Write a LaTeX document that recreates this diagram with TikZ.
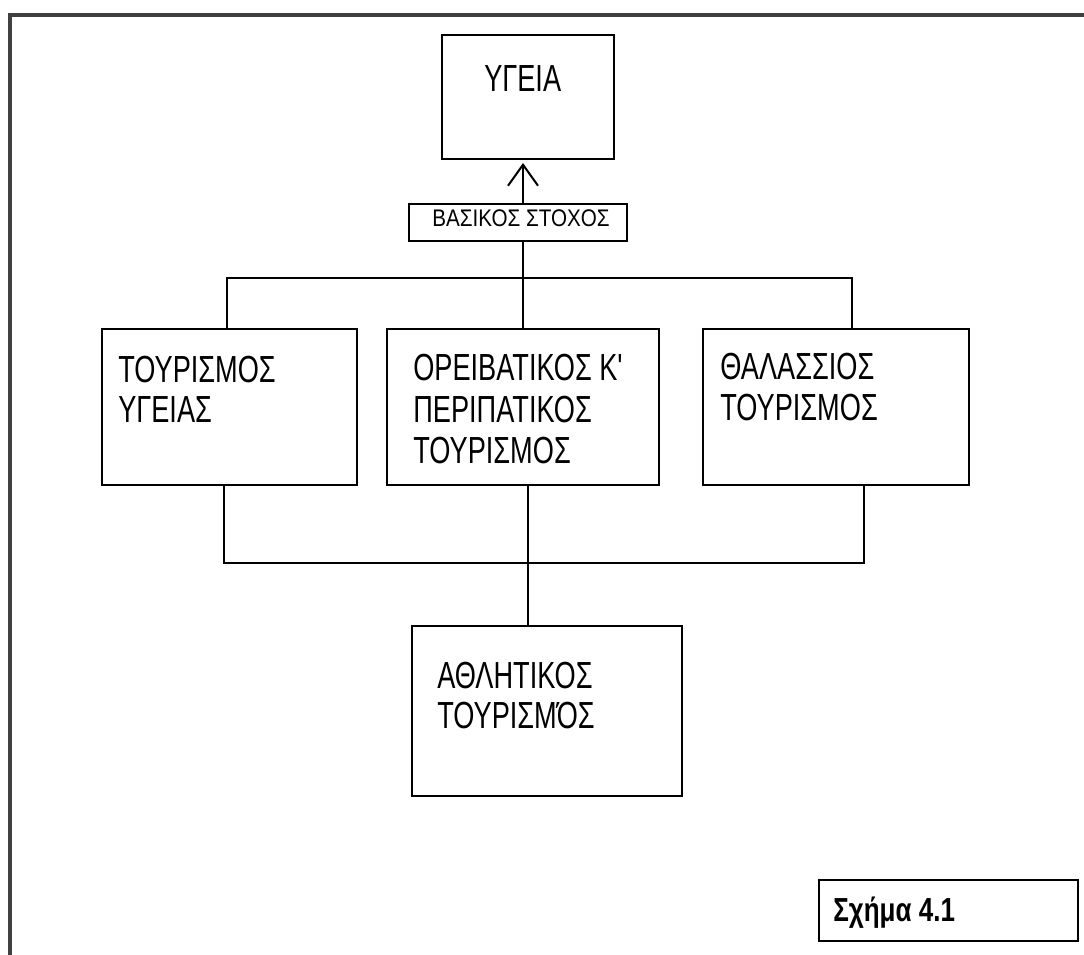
\documentclass[tikz,border=0pt]{standalone}
\usepackage{fontspec}
\setmainfont{Liberation Sans}
\newfontfamily\thinfont[FakeStretch=0.72]{Liberation Sans}
\newfontfamily\smallfont[FakeStretch=0.86]{Liberation Sans}
\newfontfamily\boldfont[FakeStretch=0.78]{Liberation Sans Bold}
\usetikzlibrary{arrows.meta}
\begin{document}
\begin{tikzpicture}[x=0.75pt,y=-0.75pt,
  box/.style={draw, line width=1.5pt, inner sep=0pt},
  conn/.style={line width=1.5pt},
  frameline/.style={draw=black!75, line width=2.4pt},
  bigtxt/.style={anchor=base west, inner sep=0pt, font=\thinfont\fontsize{28.3}{30}\selectfont},
  smalltxt/.style={anchor=base, inner sep=0pt, font=\smallfont\fontsize{18}{19}\selectfont},
  figtxt/.style={anchor=base west, inner sep=0pt, font=\boldfont\fontsize{25}{27}\selectfont}]
\useasboundingbox (0,0) rectangle (1084,955);
% outer frame
\draw[frameline] (10,955) -- (10,15) -- (1084,15);
% boxes
\node[box, minimum width=172*0.75pt, minimum height=124*0.75pt] (ygeia) at (528,97) {};
\node[box, minimum width=218*0.75pt, minimum height=37*0.75pt] (basic) at (518,222.5) {};
\node[box, minimum width=255*0.75pt, minimum height=156*0.75pt] (tour) at (229.5,407) {};
\node[box, minimum width=272*0.75pt, minimum height=156*0.75pt] (orei) at (523,407) {};
\node[box, minimum width=266*0.75pt, minimum height=156*0.75pt] (thal) at (836,407) {};
\node[box, minimum width=270*0.75pt, minimum height=170*0.75pt] (athl) at (547,711) {};
\node[box, line width=2.2pt, minimum width=259*0.75pt, minimum height=61*0.75pt] (schima) at (948.5,910.5) {};
% texts
\node[bigtxt] (t1) at (484,92) {ΥΓΕΙΑ};
\node[smalltxt] (t2) at (521,227) {ΒΑΣΙΚΟΣ ΣΤΟΧΟΣ};
\node[bigtxt] (t3a) at (118,382) {ΤΟΥΡΙΣΜΟΣ};
\node[bigtxt] (t3b) at (118,422) {ΥΓΕΙΑΣ};
\node[bigtxt] (t4a) at (413,380) {ΟΡΕΙΒΑΤΙΚΟΣ Κ'};
\node[bigtxt] (t4b) at (413,422) {ΠΕΡΙΠΑΤΙΚΟΣ};
\node[bigtxt] (t4c) at (413,463) {ΤΟΥΡΙΣΜΟΣ};
\node[bigtxt] (t5a) at (720,379) {ΘΑΛΑΣΣΙΟΣ};
\node[bigtxt] (t5b) at (720,420) {ΤΟΥΡΙΣΜΟΣ};
\node[bigtxt] (t6a) at (437,688) {ΑΘΛΗΤΙΚΟΣ};
\node[bigtxt] (t6b) at (437,728) {ΤΟΥΡΙΣΜΌΣ};
\node[figtxt] (t7) at (833,921) {Σχήμα 4.1};
% connectors
\coordinate (ax) at (523,163);
\draw[conn, -{Straight Barb[length=21*0.75pt, width=30*0.75pt, line width=1.5pt]}] (ax |- basic.north) -- (ax);
\coordinate (tl) at (227,278);
\coordinate (tr) at (852,278);
\draw[conn] (ax |- basic.south) -- (ax |- orei.north);
\draw[conn] (tl |- tour.north) -- (tl) -- (tr) -- (tr |- thal.north);
\coordinate (bl) at (224,563);
\coordinate (br) at (864,563);
\coordinate (bm) at (528,563);
\draw[conn] (bl |- tour.south) -- (bl) -- (br) -- (br |- thal.south);
\draw[conn] (bm |- orei.south) -- (bm |- athl.north);
\end{tikzpicture}
\end{document}
